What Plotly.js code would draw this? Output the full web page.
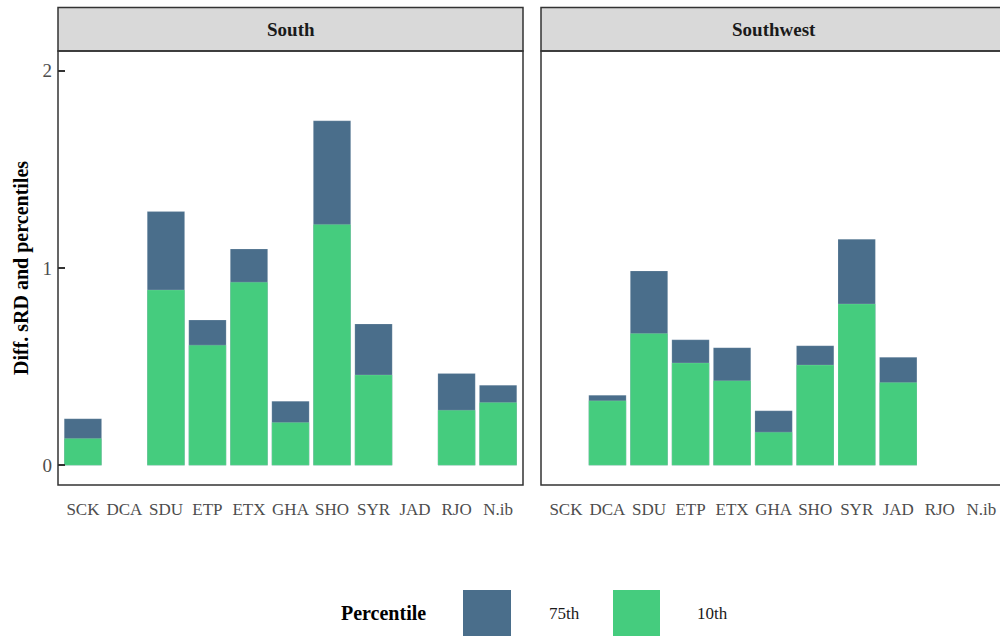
<!DOCTYPE html>
<html>
<head>
<meta charset="utf-8">
<script src="https://cdn.plot.ly/plotly-3.0.1.min.js"></script>
<style>html,body{margin:0;padding:0;background:#fff;}#chart{width:1000px;height:636px;}</style>
</head>
<body>
<div id="chart"></div>
<script>
// ---- data ----
const categories = ['SCK','DCA','SDU','ETP','ETX','GHA','SHO','SYR','JAD','RJO','N.ib'];
const panels = ['South','Southwest'];
const southP75 = [0.236, null, 1.286, 0.736, 1.096, 0.325, 1.746, 0.716, null, 0.465, 0.406];
const southP10 = [0.136, null, 0.889, 0.609, 0.928, 0.217, 1.221, 0.458, null, 0.279, 0.318];
const southwestP75 = [null, 0.355, 0.985, 0.636, 0.596, 0.276, 0.606, 1.146, 0.547, null, null];
const southwestP10 = [null, 0.327, 0.668, 0.519, 0.429, 0.168, 0.508, 0.818, 0.419, null, null];
const yTicks = [0, 1, 2];
const legendLabels = ['75th', '10th'];

const BLUE = '#4A6E8B';
const GREEN = '#45CC7E';
const W = 1000, H = 636;
const px = v => v / W;
const py = v => 1 - v / H;
const SERIF = 'Liberation Serif, Times New Roman, DejaVu Serif, serif';

function bar(x, y, color, xa, ya, name) {
  return {
    type: 'bar', x: x, y: y, xaxis: xa, yaxis: ya, name: name,
    width: 0.9, showlegend: false, hoverinfo: 'x+y',
    marker: {color: color, line: {color: 'rgba(255,255,255,0.25)', width: 0.6}}
  };
}

const data = [
  bar(categories, southP75, BLUE, 'x', 'y', legendLabels[0]),
  bar(categories, southP10, GREEN, 'x', 'y', legendLabels[1]),
  bar(categories, southwestP75, BLUE, 'x2', 'y2', legendLabels[0]),
  bar(categories, southwestP10, GREEN, 'x2', 'y2', legendLabels[1])
];

const plotTop = 51, plotBot = 485;
const p1 = [58, 523], p2 = [541, 1000];
const xbase = {
  type: 'category', categoryorder: 'array', categoryarray: categories,
  showgrid: false, zeroline: false, showline: false, ticks: '',
  tickfont: {family: SERIF, size: 17, color: '#4D4D4D'},
  ticklabelstandoff: 12, fixedrange: true
};
const ybase = {
  range: [-0.1, 2.1], showgrid: false, zeroline: false, showline: false,
  domain: [py(plotBot), py(plotTop)], fixedrange: true
};

const layout = {
  width: W, height: H,
  margin: {l: 0, r: 0, t: 0, b: 0, autoexpand: false},
  paper_bgcolor: '#fff', plot_bgcolor: '#fff',
  barmode: 'overlay', showlegend: false,
  font: {family: SERIF},
  xaxis: Object.assign({}, xbase, {domain: [px(p1[0]), px(p1[1])], range: [-0.6, 10.6], anchor: 'y'}),
  xaxis2: Object.assign({}, xbase, {domain: [px(p2[0]), px(p2[1])], range: [-0.6, 10.45], anchor: 'y2'}),
  yaxis: Object.assign({}, ybase, {
    anchor: 'x', tickvals: yTicks, ticktext: yTicks.map(String),
    ticks: 'inside', ticklen: 7, tickwidth: 2, tickcolor: '#333',
    tickfont: {family: SERIF, size: 19, color: '#4D4D4D'}, ticklabelstandoff: 5
  }),
  yaxis2: Object.assign({}, ybase, {anchor: 'x2', showticklabels: false, ticks: ''}),
  shapes: [
    {type: 'rect', xref: 'paper', yref: 'paper', x0: px(p1[0]), x1: px(p1[1]), y0: py(plotTop), y1: py(7.5),
     fillcolor: '#D9D9D9', line: {color: '#333', width: 1.5}, layer: 'below'},
    {type: 'rect', xref: 'paper', yref: 'paper', x0: px(p2[0]), x1: px(p2[1]) + 0.01, y0: py(plotTop), y1: py(7.5),
     fillcolor: '#D9D9D9', line: {color: '#333', width: 1.5}, layer: 'below'},
    {type: 'rect', xref: 'paper', yref: 'paper', x0: px(p1[0]), x1: px(p1[1]), y0: py(plotBot), y1: py(plotTop),
     line: {color: '#333', width: 1.5}, layer: 'above'},
    {type: 'rect', xref: 'paper', yref: 'paper', x0: px(p2[0]), x1: px(p2[1]) + 0.01, y0: py(plotBot), y1: py(plotTop),
     line: {color: '#333', width: 1.5}, layer: 'above'},
    {type: 'rect', xref: 'paper', yref: 'paper', x0: px(463), x1: px(511), y0: py(640), y1: py(590),
     fillcolor: BLUE, line: {width: 0}},
    {type: 'rect', xref: 'paper', yref: 'paper', x0: px(613), x1: px(660), y0: py(640), y1: py(590),
     fillcolor: GREEN, line: {width: 0}}
  ],
  annotations: [
    {xref: 'paper', yref: 'paper', x: px((p1[0] + p1[1]) / 2), y: py(29), text: '<b>' + panels[0] + '</b>',
     showarrow: false, xanchor: 'center', yanchor: 'middle', font: {family: SERIF, size: 19, color: '#1A1A1A'}},
    {xref: 'paper', yref: 'paper', x: px((p2[0] + 1006) / 2), y: py(29), text: '<b>' + panels[1] + '</b>',
     showarrow: false, xanchor: 'center', yanchor: 'middle', font: {family: SERIF, size: 19, color: '#1A1A1A'}},
    {xref: 'paper', yref: 'paper', x: px(21), y: py(268), text: '<b>Diff. sRD and percentiles</b>', textangle: -90,
     showarrow: false, xanchor: 'center', yanchor: 'middle', font: {family: SERIF, size: 20, color: '#000'}},
    {xref: 'paper', yref: 'paper', x: px(383), y: py(613), text: '<b>Percentile</b>',
     showarrow: false, xanchor: 'center', yanchor: 'middle', font: {family: SERIF, size: 20, color: '#000'}},
    {xref: 'paper', yref: 'paper', x: px(547), y: py(613), text: legendLabels[0],
     showarrow: false, xanchor: 'left', yanchor: 'middle', font: {family: SERIF, size: 17, color: '#1A1A1A'}},
    {xref: 'paper', yref: 'paper', x: px(695), y: py(613), text: legendLabels[1],
     showarrow: false, xanchor: 'left', yanchor: 'middle', font: {family: SERIF, size: 17, color: '#1A1A1A'}}
  ]
};

Plotly.newPlot('chart', data, layout, {displayModeBar: false, staticPlot: true});
</script>
</body>
</html>
